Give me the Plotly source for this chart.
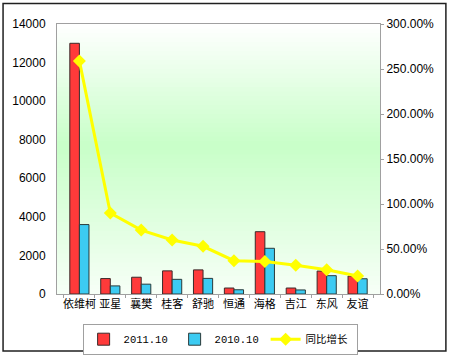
import plotly.graph_objects as go

categories = ["依维柯", "亚星", "襄樊", "桂客", "舒驰", "恒通", "海格", "吉江", "东风", "友谊"]
sales_2011_10 = [13000, 800, 870, 1200, 1250, 310, 3230, 310, 1190, 930]
sales_2010_10 = [3600, 420, 510, 760, 810, 220, 2370, 210, 950, 790]
growth = [2.59, 0.90, 0.71, 0.60, 0.53, 0.37, 0.36, 0.32, 0.27, 0.20]

fig = go.Figure()
fig.add_trace(go.Bar(x=categories, y=sales_2011_10, name="2011.10",
                     marker=dict(color="#FF3A3A", line=dict(color="#3A2A2A", width=1))))
fig.add_trace(go.Bar(x=categories, y=sales_2010_10, name="2010.10",
                     marker=dict(color="#3CCBF2", line=dict(color="#2A3A3A", width=1))))
fig.add_trace(go.Scatter(x=categories, y=growth, name="同比增长", yaxis="y2",
                         mode="lines+markers",
                         line=dict(color="#FFFF00", width=3),
                         marker=dict(symbol="diamond", size=10, color="#FFFF00")))

# background gradient (white -> light green -> pale)
shapes = []
n = 60
for i in range(n):
    t0 = i / n
    t1 = (i + 1) / n
    t = (t0 + t1) / 2
    if t >= 0.55:
        k = (1 - t) / 0.45
    else:
        k = 0.15 + 0.85 * (t / 0.55)
    k = max(0.0, min(1.0, k))
    c = int(round(255 - 55 * k))
    shapes.append(dict(type="rect", xref="x domain", yref="y domain",
                       x0=0, x1=1, y0=t0, y1=t1 + 0.002, layer="below",
                       line=dict(width=0), fillcolor=f"rgb({c},255,{c})"))
# outer border
shapes.append(dict(type="rect", xref="paper", yref="paper",
                   x0=-0.167, x1=1.204, y0=-0.211, y1=1.076,
                   line=dict(color="#202020", width=1.5)))

fig.update_layout(
    width=450, height=355,
    margin=dict(l=57, r=70, t=24, b=61, autoexpand=False),
    paper_bgcolor="white", plot_bgcolor="white",
    font=dict(family="Liberation Sans, Arial, Noto Sans CJK SC", size=12, color="black"),
    barmode="group", bargap=0.38, bargroupgap=0,
    shapes=shapes,
    showlegend=True,
    legend=dict(orientation="h", x=0.505, xanchor="center", y=-0.11, yanchor="top",
                bordercolor="#A0A0A0", borderwidth=1, bgcolor="white",
                font=dict(family="Liberation Mono, Noto Sans CJK SC", size=10.5),
                itemwidth=30, tracegroupgap=0,
                entrywidth=46, entrywidthmode="pixels"),
    xaxis=dict(showline=True, linecolor="#A0A0A0", linewidth=1, mirror=True,
               ticks="outside", tickson="boundaries", ticklen=3, tickcolor="#A0A0A0",
               tickangle=0, automargin=False,
               tickfont=dict(family="Noto Sans CJK SC", size=11), showgrid=False),
    yaxis=dict(range=[0, 14000], dtick=2000, tickformat="d", showline=True, linecolor="#A0A0A0",
               showgrid=False, zeroline=False, ticks="", ticklabelstandoff=8, automargin=False),
    yaxis2=dict(range=[0, 3], dtick=0.5, tickformat=".2%", overlaying="y", side="right",
                showline=True, linecolor="#A0A0A0", showgrid=False, zeroline=False,
                ticks="outside", ticklen=3, tickcolor="#A0A0A0", automargin=False),
)

fig.write_html("out.html", config={"displayModeBar": False},
               post_script="document.body.style.margin='0';")
